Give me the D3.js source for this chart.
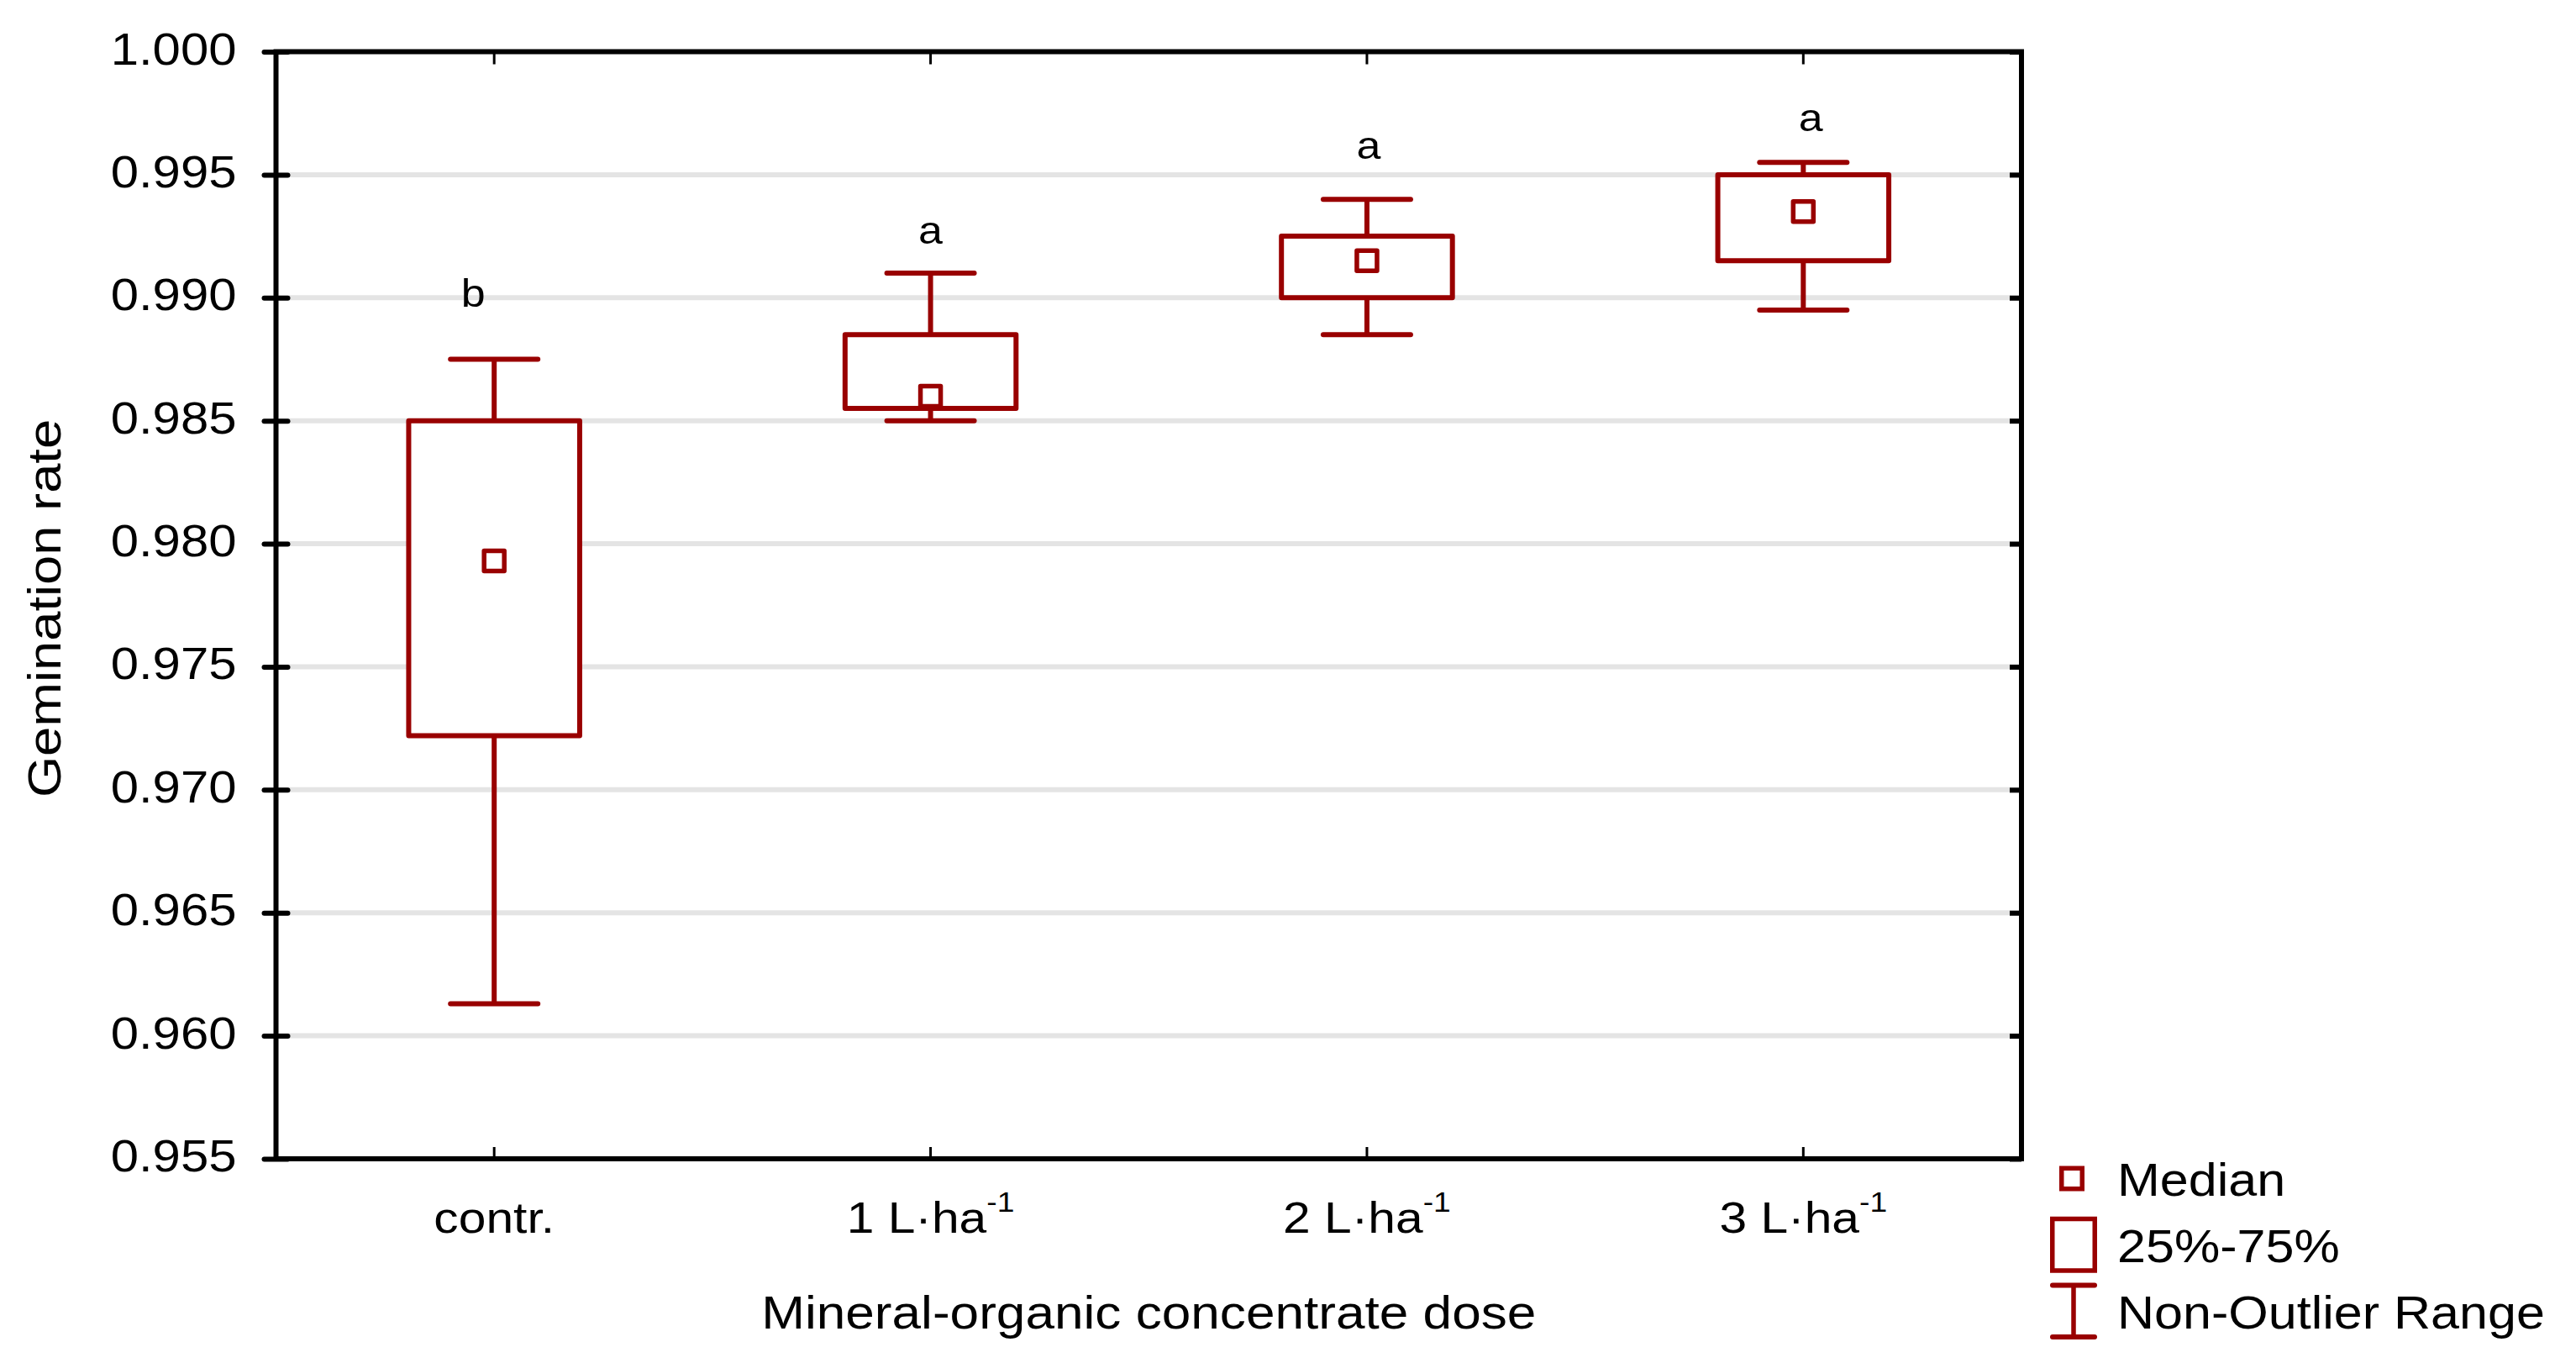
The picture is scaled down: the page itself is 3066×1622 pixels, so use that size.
<!DOCTYPE html>
<html>
<head>
<meta charset="utf-8">
<script src="https://cdn.jsdelivr.net/npm/d3@7"></script>
<style>
    body { margin: 0; background: #fff; }
    svg { display: block; font-family: "Liberation Sans", Arial, sans-serif; }
</style>
</head>
<body>
<div id="chart"></div>
<script>
// Chart data
const categories = ["contr.", "1 L·ha", "2 L·ha", "3 L·ha"];
const superscripts = ["", "-1", "-1", "-1"];
const whiskerMax = [0.9875, 0.9910, 0.9940, 0.9955];
const q3 = [0.9850, 0.9885, 0.9925, 0.9950];
const medians = [0.9793, 0.9860, 0.9915, 0.9935];
const q1 = [0.9722, 0.9855, 0.9900, 0.9915];
const whiskerMin = [0.9613, 0.9850, 0.9885, 0.9895];
const letters = ["b", "a", "a", "a"];
const letterValues = [0.98964, 0.99220, 0.99564, 0.99676];
const yTicks = [0.955, 0.960, 0.965, 0.970, 0.975, 0.980, 0.985, 0.990, 0.995, 1.000];
const legendLabels = ["Median", "25%-75%", "Non-Outlier Range"];

const W = 3066, H = 1622;
const plot = { left: 328.5, right: 2406, top: 61.5, bottom: 1379 };
const red = "#990000";
const letterDx = [-25, 0, 2, 9];
const SX = 1.13; // the original text is a bit wider than Arial

const svg = d3.select("#chart")
    .append("svg")
    .attr("width", W)
    .attr("height", H);

// move x/y into a transform so the glyphs can be widened
function Stretch(sel, sx, rotate) {
    sel.each(function() {
        const t = d3.select(this);
        const tx = +t.attr("x") || 0;
        const ty = +t.attr("y") || 0;
        t.attr("x", 0).attr("y", 0)
            .attr("transform", `translate(${tx},${ty})${rotate ? " rotate(" + rotate + ")" : ""} scale(${sx},1)`);
    });
}

const x = d3.scaleBand()
    .domain(categories)
    .range([plot.left, plot.right]);

const y = d3.scaleLinear()
    .domain([0.955, 1.000])
    .range([plot.bottom, plot.top]);

const boxes = categories.map((c, i) => ({
    cat: c, max: whiskerMax[i], q3: q3[i], med: medians[i], q1: q1[i], min: whiskerMin[i]
}));

// gridlines
svg.append("g")
    .selectAll("line")
    .data(yTicks.slice(1, -1))
    .join("line")
    .attr("x1", plot.left + 3)
    .attr("x2", plot.right - 3)
    .attr("y1", d => y(d))
    .attr("y2", d => y(d))
    .style("stroke", "#e4e4e4")
    .style("stroke-width", 6);

// left axis, ticks cross the axis line
const leftAxis = svg.append("g")
    .attr("transform", `translate(${plot.left},0)`)
    .call(d3.axisLeft(y).tickValues(yTicks).tickSize(14).tickSizeOuter(0).tickFormat(d3.format(".3f")));
leftAxis.select(".domain").remove();
leftAxis.selectAll(".tick line")
    .attr("x1", -14).attr("x2", 14)
    .style("stroke", "#000").style("stroke-width", 6).style("stroke-linecap", "round");
leftAxis.selectAll(".tick text")
    .attr("x", -47)
    .attr("dy", null)
    .attr("y", 14.5)
    .style("font-size", "53px")
    .style("fill", "#000")
    .style("font-family", "'Liberation Sans', Arial, sans-serif")
    .call(Stretch, SX);

// right axis, inner ticks only
const rightAxis = svg.append("g")
    .attr("transform", `translate(${plot.right},0)`)
    .call(d3.axisRight(y).tickValues(yTicks).tickSize(-14).tickSizeOuter(0).tickFormat(""));
rightAxis.select(".domain").remove();
rightAxis.selectAll(".tick line").style("stroke", "#000").style("stroke-width", 6);

// top axis, inner ticks only
const topAxis = svg.append("g")
    .attr("transform", `translate(0,${plot.top})`)
    .call(d3.axisTop(x).tickSize(-15).tickSizeOuter(0).tickFormat(""));
topAxis.select(".domain").remove();
topAxis.selectAll(".tick line").style("stroke", "#000").style("stroke-width", 3);

// bottom axis with labels
const bottomAxis = svg.append("g")
    .attr("transform", `translate(0,${plot.bottom})`)
    .call(d3.axisBottom(x).tickSize(-14).tickSizeOuter(0));
bottomAxis.select(".domain").remove();
bottomAxis.selectAll(".tick line").style("stroke", "#000").style("stroke-width", 3);
bottomAxis.selectAll(".tick text")
    .attr("y", 88)
    .attr("dy", null)
    .style("font-size", "52px")
    .style("fill", "#000")
    .style("font-family", "'Liberation Sans', Arial, sans-serif")
    .each(function(d, i) {
        const t = d3.select(this);
        t.text(d);
        if (superscripts[i]) {
            t.append("tspan")
                .attr("dy", -25)
                .style("font-size", "33px")
                .text(superscripts[i]);
        }
    })
    .call(Stretch, SX);

// plot frame
svg.append("rect")
    .attr("x", plot.left)
    .attr("y", plot.top)
    .attr("width", plot.right - plot.left)
    .attr("height", plot.bottom - plot.top)
    .style("fill", "none")
    .style("stroke", "#000")
    .style("stroke-width", 6);

// boxes
const boxW = 203.5, capHalf = 52, medSize = 24;
const g = svg.append("g");

g.selectAll(".whisker-hi")
    .data(boxes)
    .join("line")
    .attr("class", "whisker-hi")
    .attr("x1", d => x(d.cat) + x.bandwidth() / 2)
    .attr("x2", d => x(d.cat) + x.bandwidth() / 2)
    .attr("y1", d => y(d.q3))
    .attr("y2", d => y(d.max));

g.selectAll(".whisker-lo")
    .data(boxes)
    .join("line")
    .attr("class", "whisker-lo")
    .attr("x1", d => x(d.cat) + x.bandwidth() / 2)
    .attr("x2", d => x(d.cat) + x.bandwidth() / 2)
    .attr("y1", d => y(d.q1))
    .attr("y2", d => y(d.min));

g.selectAll(".cap")
    .data(boxes.flatMap(d => [{ cat: d.cat, v: d.max }, { cat: d.cat, v: d.min }]))
    .join("line")
    .attr("class", "cap")
    .attr("x1", d => x(d.cat) + x.bandwidth() / 2 - capHalf)
    .attr("x2", d => x(d.cat) + x.bandwidth() / 2 + capHalf)
    .attr("y1", d => y(d.v))
    .attr("y2", d => y(d.v))
    .style("stroke-linecap", "round");

g.selectAll("line")
    .style("stroke", red)
    .style("stroke-width", 6);

g.selectAll(".box")
    .data(boxes)
    .join("rect")
    .attr("class", "box")
    .attr("x", d => x(d.cat) + x.bandwidth() / 2 - boxW / 2)
    .attr("width", boxW)
    .attr("y", d => y(d.q3))
    .attr("height", d => y(d.q1) - y(d.q3))
    .style("fill", "#fff")
    .style("stroke", red)
    .style("stroke-width", 6)
    .style("stroke-linejoin", "round");

g.selectAll(".median")
    .data(boxes)
    .join("rect")
    .attr("class", "median")
    .attr("x", d => x(d.cat) + x.bandwidth() / 2 - medSize / 2)
    .attr("y", d => y(d.med) - medSize / 2)
    .attr("width", medSize)
    .attr("height", medSize)
    .style("fill", "#fff")
    .style("stroke", red)
    .style("stroke-width", 5.5)
    .style("stroke-linejoin", "round");

// significance letters
svg.append("g")
    .selectAll("text")
    .data(letters)
    .join("text")
    .attr("x", (d, i) => x(categories[i]) + x.bandwidth() / 2 + letterDx[i])
    .attr("y", (d, i) => y(letterValues[i]))
    .attr("text-anchor", "middle")
    .style("font-size", "46px")
    .style("fill", "#000")
    .text(d => d)
    .call(Stretch, SX);

// axis titles
svg.append("text")
    .attr("x", (plot.left + plot.right) / 2)
    .attr("y", 1581)
    .attr("text-anchor", "middle")
    .style("font-size", "55px")
    .text("Mineral-organic concentrate dose")
    .call(Stretch, SX);

svg.append("text")
    .attr("x", 72)
    .attr("y", 724)
    .attr("text-anchor", "middle")
    .style("font-size", "56px")
    .text("Gemination rate")
    .call(Stretch, SX, -90);

// legend
const lg = svg.append("g");
lg.append("rect")
    .attr("x", 2466 - 12.25).attr("y", 1402.5 - 12.25)
    .attr("width", 24.5).attr("height", 24.5)
    .style("fill", "#fff").style("stroke", red).style("stroke-width", 5.5);
lg.append("rect")
    .attr("x", 2442.75).attr("y", 1450.5)
    .attr("width", 50.5).attr("height", 61.5)
    .style("fill", "#fff").style("stroke", red).style("stroke-width", 5.5);
lg.append("line")
    .attr("x1", 2468).attr("x2", 2468).attr("y1", 1529.5).attr("y2", 1591)
    .style("stroke", red).style("stroke-width", 5.5);
[1529.5, 1591].forEach(yy => {
    lg.append("line")
        .attr("x1", 2443).attr("x2", 2493).attr("y1", yy).attr("y2", yy)
        .style("stroke", red).style("stroke-width", 6).style("stroke-linecap", "round");
});
lg.selectAll("text")
    .data(legendLabels)
    .join("text")
    .attr("x", 2520)
    .attr("y", (d, i) => 1422.7 + i * 79)
    .style("font-size", "55px")
    .style("fill", "#000")
    .text(d => d)
    .call(Stretch, 1.11);
</script>
</body>
</html>
